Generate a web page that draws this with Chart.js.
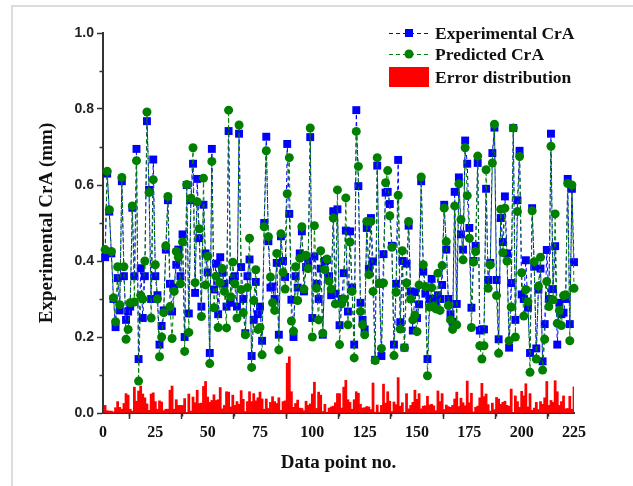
<!DOCTYPE html>
<html>
<head>
<meta charset="utf-8">
<script src="https://cdn.jsdelivr.net/npm/chart.js@4/dist/chart.umd.min.js"></script>
<style>
  body { margin: 0; background: #fff; }
  canvas { display: block; }
</style>
</head>
<body>
<canvas id="craChart" width="633" height="486"></canvas>
<script>
// data point numbers 1..225
var pointNo = [];
for (var i = 1; i <= 225; i++) pointNo.push(i);

var experimental = [
  0.41, 0.63, 0.53, 0.42, 0.30, 0.226, 0.355, 0.27, 0.61, 0.36,
  0.245, 0.267, 0.28, 0.54, 0.36, 0.695, 0.142, 0.381, 0.25, 0.36,
  0.768, 0.587, 0.30, 0.667, 0.36, 0.31, 0.18, 0.229, 0.27, 0.43,
  0.56, 0.34, 0.267, 0.33, 0.39, 0.43, 0.36, 0.47, 0.20, 0.60,
  0.262, 0.56, 0.656, 0.316, 0.616, 0.46, 0.28, 0.548, 0.42, 0.37,
  0.158, 0.695, 0.325, 0.393, 0.26, 0.41, 0.369, 0.34, 0.28, 0.742,
  0.29, 0.35, 0.36, 0.28, 0.735, 0.384, 0.30, 0.21, 0.36, 0.404,
  0.15, 0.245, 0.345, 0.26, 0.28, 0.19, 0.50, 0.727, 0.452, 0.33,
  0.333, 0.30, 0.395, 0.206, 0.465, 0.40, 0.358, 0.708, 0.524, 0.298,
  0.20, 0.36, 0.33, 0.42, 0.478, 0.32, 0.384, 0.40, 0.726, 0.25,
  0.412, 0.34, 0.30, 0.38, 0.206, 0.40, 0.403, 0.36, 0.31, 0.531,
  0.314, 0.536, 0.231, 0.30, 0.368, 0.48, 0.267, 0.478, 0.33, 0.18,
  0.797, 0.597, 0.29, 0.245, 0.22, 0.487, 0.38, 0.513, 0.399, 0.14,
  0.651, 0.34, 0.15, 0.418, 0.58, 0.582, 0.55, 0.44, 0.18, 0.34,
  0.666, 0.239, 0.40, 0.172, 0.393, 0.493, 0.32, 0.217, 0.318, 0.25,
  0.286, 0.61, 0.372, 0.314, 0.142, 0.30, 0.353, 0.30, 0.28, 0.31,
  0.30, 0.337, 0.548, 0.43, 0.30, 0.26, 0.24, 0.582, 0.287, 0.62,
  0.47, 0.43, 0.717, 0.656, 0.487, 0.277, 0.40, 0.44, 0.658, 0.217,
  0.22, 0.22, 0.59, 0.35, 0.395, 0.684, 0.751, 0.35, 0.194, 0.513,
  0.45, 0.57, 0.42, 0.172, 0.342, 0.75, 0.245, 0.56, 0.69, 0.312,
  0.30, 0.402, 0.277, 0.158, 0.539, 0.385, 0.17, 0.325, 0.38, 0.136,
  0.234, 0.429, 0.30, 0.735, 0.326, 0.439, 0.18, 0.29, 0.26, 0.264,
  0.30, 0.616, 0.234, 0.59, 0.397
];

var predicted = [
  0.43, 0.636, 0.535, 0.425, 0.303, 0.24, 0.385, 0.285, 0.62, 0.385,
  0.194, 0.22, 0.29, 0.545, 0.292, 0.664, 0.084, 0.31, 0.30, 0.40,
  0.792, 0.58, 0.25, 0.614, 0.39, 0.30, 0.148, 0.20, 0.264, 0.44,
  0.57, 0.28, 0.196, 0.32, 0.425, 0.41, 0.34, 0.45, 0.162, 0.601,
  0.212, 0.565, 0.698, 0.343, 0.556, 0.485, 0.254, 0.618, 0.337, 0.412,
  0.13, 0.662, 0.277, 0.36, 0.225, 0.343, 0.38, 0.32, 0.224, 0.797,
  0.306, 0.397, 0.34, 0.25, 0.758, 0.325, 0.264, 0.206, 0.33, 0.46,
  0.12, 0.296, 0.377, 0.22, 0.225, 0.153, 0.49, 0.69, 0.464, 0.358,
  0.29, 0.27, 0.42, 0.166, 0.472, 0.37, 0.326, 0.577, 0.672, 0.242,
  0.215, 0.385, 0.296, 0.407, 0.49, 0.326, 0.415, 0.38, 0.75, 0.20,
  0.493, 0.328, 0.245, 0.427, 0.21, 0.377, 0.405, 0.347, 0.326, 0.513,
  0.287, 0.587, 0.18, 0.287, 0.30, 0.566, 0.232, 0.45, 0.32, 0.145,
  0.741, 0.649, 0.267, 0.232, 0.206, 0.504, 0.364, 0.504, 0.32, 0.138,
  0.672, 0.342, 0.17, 0.342, 0.606, 0.638, 0.519, 0.436, 0.151, 0.318,
  0.573, 0.221, 0.427, 0.172, 0.342, 0.504, 0.30, 0.245, 0.258, 0.214,
  0.337, 0.621, 0.39, 0.333, 0.098, 0.279, 0.33, 0.281, 0.274, 0.368,
  0.27, 0.388, 0.539, 0.451, 0.283, 0.245, 0.22, 0.545, 0.232, 0.603,
  0.509, 0.403, 0.698, 0.572, 0.46, 0.225, 0.397, 0.425, 0.676, 0.177,
  0.142, 0.177, 0.64, 0.328, 0.39, 0.658, 0.76, 0.309, 0.157, 0.536,
  0.422, 0.539, 0.40, 0.19, 0.279, 0.75, 0.20, 0.53, 0.675, 0.369,
  0.255, 0.325, 0.293, 0.107, 0.532, 0.398, 0.142, 0.334, 0.41, 0.113,
  0.194, 0.346, 0.28, 0.702, 0.298, 0.524, 0.236, 0.27, 0.23, 0.309,
  0.311, 0.604, 0.19, 0.60, 0.328
];

var errorDist = [
  0.02, 0.006, 0.005, 0.005, 0.003, 0.014, 0.03, 0.015, 0.01, 0.025,
  0.051, 0.047, 0.01, 0.005, 0.068, 0.031, 0.058, 0.071, 0.05, 0.04,
  0.024, 0.007, 0.05, 0.053, 0.03, 0.01, 0.032, 0.029, 0.006, 0.01,
  0.01, 0.06, 0.071, 0.01, 0.035, 0.02, 0.02, 0.02, 0.038, 0.001,
  0.05, 0.005, 0.042, 0.027, 0.06, 0.025, 0.026, 0.07, 0.083, 0.042,
  0.028, 0.033, 0.048, 0.033, 0.035, 0.067, 0.011, 0.02, 0.056, 0.055,
  0.016, 0.047, 0.02, 0.03, 0.023, 0.059, 0.036, 0.004, 0.03, 0.056,
  0.03, 0.051, 0.032, 0.04, 0.055, 0.037, 0.01, 0.037, 0.012, 0.028,
  0.043, 0.03, 0.025, 0.04, 0.007, 0.03, 0.032, 0.131, 0.148, 0.056,
  0.015, 0.025, 0.034, 0.013, 0.012, 0.006, 0.031, 0.02, 0.024, 0.05,
  0.081, 0.012, 0.055, 0.047, 0.004, 0.023, 0.002, 0.013, 0.016, 0.018,
  0.027, 0.051, 0.051, 0.013, 0.068, 0.086, 0.035, 0.028, 0.01, 0.035,
  0.056, 0.052, 0.023, 0.013, 0.014, 0.017, 0.016, 0.009, 0.079, 0.002,
  0.021, 0.002, 0.02, 0.076, 0.026, 0.056, 0.031, 0.004, 0.029, 0.022,
  0.093, 0.018, 0.027, 0.0, 0.051, 0.011, 0.02, 0.028, 0.06, 0.036,
  0.051, 0.011, 0.018, 0.019, 0.044, 0.021, 0.023, 0.019, 0.006, 0.058,
  0.03, 0.051, 0.009, 0.021, 0.017, 0.015, 0.02, 0.037, 0.055, 0.017,
  0.039, 0.027, 0.019, 0.084, 0.027, 0.052, 0.003, 0.015, 0.018, 0.04,
  0.078, 0.043, 0.05, 0.022, 0.005, 0.026, 0.009, 0.041, 0.037, 0.023,
  0.028, 0.031, 0.02, 0.018, 0.063, 0.0, 0.045, 0.03, 0.015, 0.057,
  0.045, 0.077, 0.016, 0.051, 0.007, 0.013, 0.028, 0.009, 0.03, 0.023,
  0.04, 0.083, 0.02, 0.033, 0.028, 0.085, 0.056, 0.02, 0.03, 0.045,
  0.011, 0.012, 0.044, 0.01, 0.069
];

var yMinor = [0.1, 0.3, 0.5, 0.7, 0.9];
var xMinor = [12.5, 37.5, 62.5, 87.5, 112.5, 137.5, 162.5, 187.5, 212.5];

var serif = "'Liberation Serif', 'Times New Roman', serif";

// frame, minor ticks and the legend box are drawn by hand
var extras = {
    id: "extras",
    beforeDraw: function (chart) {
        var ctx = chart.ctx;
        ctx.save();
        ctx.fillStyle = "#fff";
        ctx.fillRect(0, 0, chart.width, chart.height);
        ctx.strokeStyle = "#dcdcdc";
        ctx.lineWidth = 2;
        ctx.beginPath();
        ctx.moveTo(12, chart.height);
        ctx.lineTo(12, 6);
        ctx.lineTo(chart.width, 6);
        ctx.stroke();
        ctx.restore();
    },
    afterDraw: function (chart) {
        var ctx = chart.ctx;
        var xs = chart.scales.x, ys = chart.scales.y;
        ctx.save();
        ctx.strokeStyle = "#333";
        ctx.lineWidth = 1.5;
        ctx.beginPath();
        yMinor.forEach(function (v) {
            var py = Math.round(ys.getPixelForValue(v)) + 0.5;
            ctx.moveTo(xs.left - 3.5, py);
            ctx.lineTo(xs.left, py);
        });
        xMinor.forEach(function (v) {
            var px = Math.round(xs.getPixelForValue(v)) + 0.5;
            ctx.moveTo(px, ys.bottom);
            ctx.lineTo(px, ys.bottom + 3.5);
        });
        ctx.stroke();

        // legend
        var rows = [
            { y: 33, color: "#0000ff", marker: "rect", text: "Experimental CrA" },
            { y: 54, color: "#008000", marker: "circle", text: "Predicted CrA" },
            { y: 77, color: "#ff0000", marker: "bar", text: "Error distribution" }
        ];
        rows.forEach(function (r) {
            ctx.fillStyle = r.color;
            if (r.marker === "bar") {
                ctx.fillRect(389, r.y - 10, 40, 20);
            } else {
                ctx.strokeStyle = r.color;
                ctx.lineWidth = 1;
                ctx.setLineDash([4, 3]);
                ctx.beginPath();
                ctx.moveTo(389, r.y + 0.5);
                ctx.lineTo(431, r.y + 0.5);
                ctx.stroke();
                ctx.setLineDash([]);
                if (r.marker === "rect") {
                    ctx.fillRect(405, r.y - 4, 8, 8);
                } else {
                    ctx.beginPath();
                    ctx.arc(409, r.y, 4.5, 0, Math.PI * 2);
                    ctx.fill();
                }
            }
            ctx.fillStyle = "#111";
            ctx.font = "bold 17.5px " + serif;
            ctx.textBaseline = "middle";
            ctx.fillText(r.text, 435, r.y + 1);
        });
        ctx.restore();
    }
};

new Chart("craChart", {
    type: "bar",
    data: {
        labels: pointNo,
        datasets: [{
            type: "line",
            label: "Predicted CrA",
            data: predicted,
            borderColor: "#008000",
            backgroundColor: "#008000",
            borderWidth: 1,
            borderDash: [4, 3],
            pointStyle: "circle",
            pointRadius: 4.5,
            pointBorderWidth: 0,
            pointBackgroundColor: "#008000",
            fill: false,
            clip: false,
            order: 0
        }, {
            type: "line",
            label: "Experimental CrA",
            data: experimental,
            borderColor: "#0000ff",
            backgroundColor: "#0000ff",
            borderWidth: 1,
            borderDash: [4, 3],
            pointStyle: "rect",
            pointRadius: 5.6,
            pointBorderWidth: 0,
            pointBackgroundColor: "#0000ff",
            fill: false,
            clip: false,
            order: 1
        }, {
            label: "Error distribution",
            data: errorDist,
            backgroundColor: "#ff0000",
            borderWidth: 0,
            barPercentage: 1,
            categoryPercentage: 1,
            order: 2
        }]
    },
    options: {
        responsive: false,
        animation: false,
        devicePixelRatio: 1,
        layout: { padding: { left: 0, right: 59, top: 33, bottom: 0 } },
        plugins: {
            legend: { display: false },
            tooltip: { enabled: false }
        },
        scales: {
            x: {
                type: "linear",
                min: 0,
                max: 225,
                offset: false,
                afterFit: function (s) { s.height = 73; },
                ticks: {
                    stepSize: 25,
                    color: "#111",
                    padding: 4,
                    maxRotation: 0,
                    font: { family: serif, weight: "bold", size: 16 }
                },
                grid: {
                    drawOnChartArea: false,
                    tickLength: 6,
                    tickColor: "#333",
                    tickWidth: 1.5
                },
                border: { color: "#333", width: 2 },
                title: {
                    display: true,
                    text: "Data point no.",
                    color: "#111",
                    padding: { top: 4, bottom: 12 },
                    font: { family: serif, weight: "bold", size: 19 }
                }
            },
            y: {
                min: 0,
                max: 1,
                afterFit: function (s) { s.width = 103; },
                ticks: {
                    stepSize: 0.2,
                    color: "#222",
                    padding: 3,
                    font: { family: "'Liberation Sans', Arial, sans-serif", weight: "bold", size: 14 },
                    callback: function (v) { return v.toFixed(1); }
                },
                grid: {
                    drawOnChartArea: false,
                    tickLength: 6,
                    tickColor: "#333",
                    tickWidth: 1.5
                },
                border: { color: "#333", width: 2 },
                title: {
                    display: true,
                    text: "Experimental CrA (mm)",
                    color: "#111",
                    padding: { top: 36, bottom: 4 },
                    font: { family: serif, weight: "bold", size: 19 }
                }
            }
        }
    },
    plugins: [extras]
});
</script>
</body>
</html>
